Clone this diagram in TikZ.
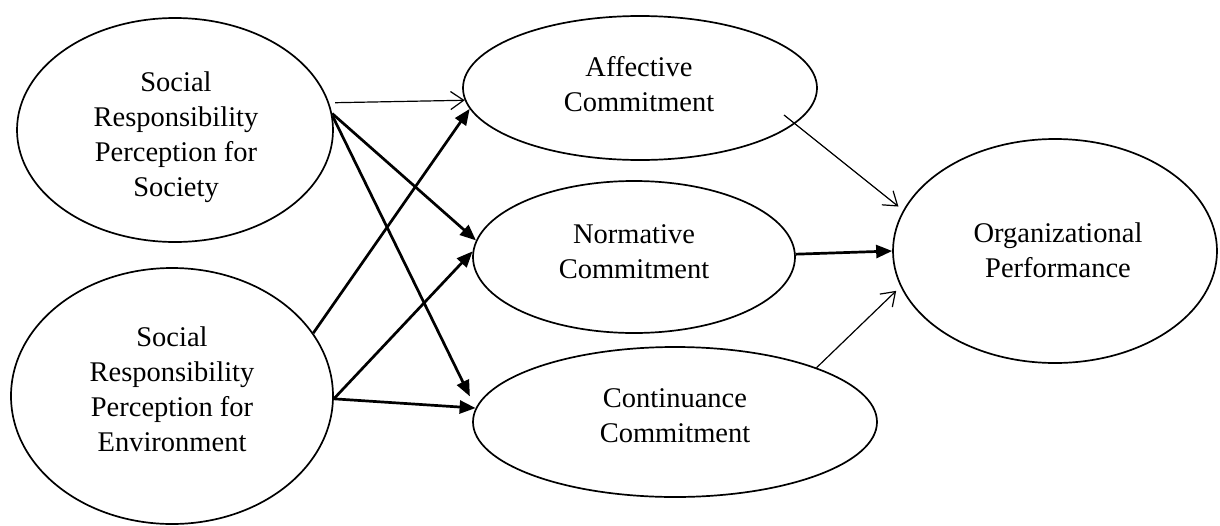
\documentclass[tikz,border=0pt]{standalone}
\usepackage{fontspec}
\setmainfont{Liberation Serif}
\usetikzlibrary{arrows.meta,shapes.geometric}
\begin{document}
\begin{tikzpicture}[x=1pt,y=-1pt,
  latent/.style={draw, ellipse, line width=1.7pt, inner sep=0pt},
  lbl/.style={align=center, inner sep=0pt, font=\fontsize{28.5}{35}\selectfont},
  thickarr/.style={line width=2.7pt, -{Triangle[length=16pt,width=13pt]}},
  thinarr/.style={line width=1.2pt, -{Straight Barb[length=13pt,width=18pt,line width=1.2pt]}}]
\useasboundingbox[fill=white] (0,0) rectangle (1220,525);
\node[latent, minimum width=316pt, minimum height=224pt] (soc) at (175,130) {};
\node[latent, minimum width=322pt, minimum height=256pt] (env) at (172,396) {};
\node[latent, minimum width=354pt, minimum height=144pt] (aff) at (640,88) {};
\node[latent, minimum width=322pt, minimum height=152pt] (nor) at (634,257) {};
\node[latent, minimum width=404pt, minimum height=150pt] (con) at (675,422) {};
\node[latent, minimum width=324pt, minimum height=224pt] (op) at (1055,251) {};
\node[lbl] (soct) at (176,137) {Social\\Responsibility\\Perception for\\Society};
\node[lbl] (envt) at (172,389) {Social\\Responsibility\\Perception for\\Environment};
\node[lbl] (afft) at (639,84) {Affective\\Commitment};
\node[lbl] (nort) at (634,252) {Normative\\Commitment};
\node[lbl] (cont) at (675,416) {Continuance\\Commitment};
\node[lbl] (opt) at (1058,250) {Organizational\\Performance};
% from society
\draw[thinarr, shorten <=6pt] (soc.10) -- (aff.184.5);
\draw[thickarr] (soc.6) -- (nor.174.7);
\draw[thickarr, shorten >=13pt] (soc.5) -- (con.176);
% from environment
\draw[thickarr] (env.24) -- (aff.187.2);
\draw[thickarr] (env.-1) -- (nor.178.6);
\draw[thickarr] (env.-1) -- (con.176.6);
% to performance
\draw[thinarr, shorten <=-14pt, shorten >=6pt] (aff.-13.1) -- (op.165);
\draw[thickarr] (nor.1) -- (op.180);
\draw[thinarr, shorten >=6pt] (con.21) -- (op.-167);
\end{tikzpicture}
\end{document}
